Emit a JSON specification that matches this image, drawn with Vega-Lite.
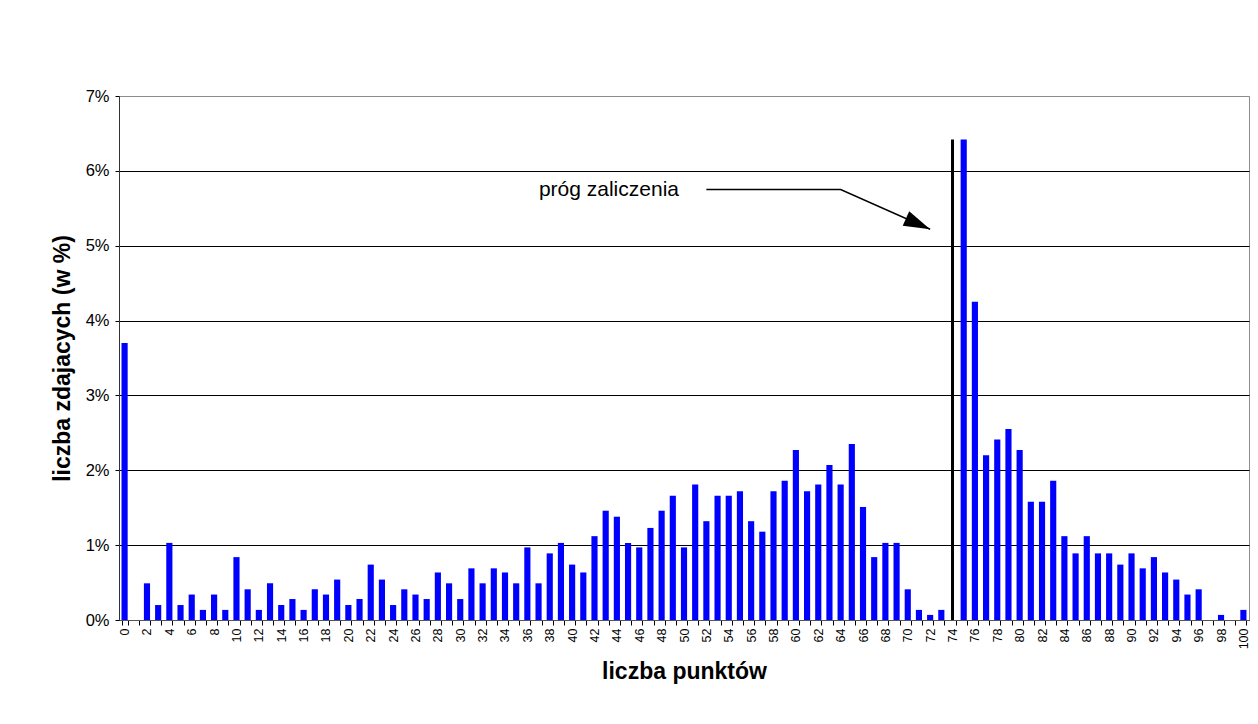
{
  "$schema": "https://vega.github.io/schema/vega-lite/v6.json",
  "width": 1130,
  "height": 524,
  "autosize": {"type": "none"},
  "padding": {"left": 119, "top": 96, "right": 9, "bottom": 104},
  "background": "white",
  "config": {
    "font": "Liberation Sans",
    "view": {"stroke": "#8c8c8c", "strokeWidth": 1},
    "axis": {"labelColor": "#000", "titleColor": "#000", "labelFont": "Liberation Sans", "titleFont": "Liberation Sans"}
  },
  "layer": [
    {
      "data": {"values": [
        {"k": 0, "pct": 3.70}, {"k": 1, "pct": 0}, {"k": 2, "pct": 0.49}, {"k": 3, "pct": 0.20}, {"k": 4, "pct": 1.03},
        {"k": 5, "pct": 0.20}, {"k": 6, "pct": 0.34}, {"k": 7, "pct": 0.135}, {"k": 8, "pct": 0.34}, {"k": 9, "pct": 0.135},
        {"k": 10, "pct": 0.84}, {"k": 11, "pct": 0.41}, {"k": 12, "pct": 0.135}, {"k": 13, "pct": 0.49}, {"k": 14, "pct": 0.20},
        {"k": 15, "pct": 0.28}, {"k": 16, "pct": 0.135}, {"k": 17, "pct": 0.41}, {"k": 18, "pct": 0.34}, {"k": 19, "pct": 0.54},
        {"k": 20, "pct": 0.20}, {"k": 21, "pct": 0.28}, {"k": 22, "pct": 0.74}, {"k": 23, "pct": 0.54}, {"k": 24, "pct": 0.20},
        {"k": 25, "pct": 0.41}, {"k": 26, "pct": 0.34}, {"k": 27, "pct": 0.28}, {"k": 28, "pct": 0.635}, {"k": 29, "pct": 0.49},
        {"k": 30, "pct": 0.28}, {"k": 31, "pct": 0.69}, {"k": 32, "pct": 0.49}, {"k": 33, "pct": 0.69}, {"k": 34, "pct": 0.635},
        {"k": 35, "pct": 0.49}, {"k": 36, "pct": 0.97}, {"k": 37, "pct": 0.49}, {"k": 38, "pct": 0.89}, {"k": 39, "pct": 1.03},
        {"k": 40, "pct": 0.74}, {"k": 41, "pct": 0.635}, {"k": 42, "pct": 1.12}, {"k": 43, "pct": 1.46}, {"k": 44, "pct": 1.38},
        {"k": 45, "pct": 1.03}, {"k": 46, "pct": 0.97}, {"k": 47, "pct": 1.23}, {"k": 48, "pct": 1.46}, {"k": 49, "pct": 1.66},
        {"k": 50, "pct": 0.97}, {"k": 51, "pct": 1.81}, {"k": 52, "pct": 1.32}, {"k": 53, "pct": 1.66}, {"k": 54, "pct": 1.66},
        {"k": 55, "pct": 1.72}, {"k": 56, "pct": 1.32}, {"k": 57, "pct": 1.18}, {"k": 58, "pct": 1.72}, {"k": 59, "pct": 1.86},
        {"k": 60, "pct": 2.27}, {"k": 61, "pct": 1.72}, {"k": 62, "pct": 1.81}, {"k": 63, "pct": 2.07}, {"k": 64, "pct": 1.81},
        {"k": 65, "pct": 2.35}, {"k": 66, "pct": 1.51}, {"k": 67, "pct": 0.84}, {"k": 68, "pct": 1.03}, {"k": 69, "pct": 1.03},
        {"k": 70, "pct": 0.41}, {"k": 71, "pct": 0.135}, {"k": 72, "pct": 0.068}, {"k": 73, "pct": 0.135}, {"k": 74, "pct": 0},
        {"k": 75, "pct": 6.42}, {"k": 76, "pct": 4.25}, {"k": 77, "pct": 2.20}, {"k": 78, "pct": 2.41}, {"k": 79, "pct": 2.55},
        {"k": 80, "pct": 2.27}, {"k": 81, "pct": 1.58}, {"k": 82, "pct": 1.58}, {"k": 83, "pct": 1.86}, {"k": 84, "pct": 1.12},
        {"k": 85, "pct": 0.89}, {"k": 86, "pct": 1.12}, {"k": 87, "pct": 0.89}, {"k": 88, "pct": 0.89}, {"k": 89, "pct": 0.74},
        {"k": 90, "pct": 0.89}, {"k": 91, "pct": 0.69}, {"k": 92, "pct": 0.84}, {"k": 93, "pct": 0.635}, {"k": 94, "pct": 0.54},
        {"k": 95, "pct": 0.34}, {"k": 96, "pct": 0.41}, {"k": 97, "pct": 0}, {"k": 98, "pct": 0.068}, {"k": 99, "pct": 0},
        {"k": 100, "pct": 0.135}
      ]},
      "mark": {"type": "bar", "color": "#0000FF"},
      "encoding": {
        "x": {
          "field": "k", "type": "ordinal", "title": "liczba punktów",
          "scale": {"type": "band", "paddingInner": 0.45, "paddingOuter": 0.225},
          "axis": {
            "labelAngle": -90, "labelFontSize": 12.5, "labelExpr": "datum.value % 2 == 0 ? datum.label : ''",
            "labelOverlap": false, "tickBand": "extent", "tickSize": 5, "tickColor": "#000",
            "domainColor": "#555", "labelPadding": 3, "titleFontSize": 23, "titleFontWeight": "bold",
            "titlePadding": 12, "grid": false
          }
        },
        "y": {
          "field": "pct", "type": "quantitative", "title": "liczba zdajacych (w %)",
          "scale": {"domain": [0, 7], "nice": false},
          "axis": {
            "values": [0, 1, 2, 3, 4, 5, 6, 7], "labelExpr": "datum.value + '%'", "labelFontSize": 16.5,
            "tickSize": 4, "labelPadding": 6, "grid": true,
            "gridColor": {"condition": {"test": "datum.value >= 7", "value": "#8c8c8c"}, "value": "#000"},
            "domainColor": "#333", "tickColor": "#000", "titleFontSize": 23, "titleFontWeight": "bold", "titlePadding": 11
          }
        }
      }
    },
    {
      "data": {"values": [{"k": 74, "y0": 0, "y1": 6.42}]},
      "mark": {"type": "rule", "color": "#000", "strokeWidth": 3},
      "encoding": {
        "x": {"field": "k", "type": "ordinal", "title": "liczba punktów"},
        "y": {"field": "y0", "type": "quantitative", "title": "liczba zdajacych (w %)"},
        "y2": {"field": "y1"}
      }
    },
    {
      "data": {"values": [{"k": 52, "v": 5.75, "o": 1}, {"k": 64, "v": 5.75, "o": 2}, {"k": 72, "v": 5.22, "o": 3}]},
      "mark": {"type": "line", "color": "#000", "strokeWidth": 1.4},
      "encoding": {
        "x": {"field": "k", "type": "ordinal", "title": "liczba punktów"},
        "y": {"field": "v", "type": "quantitative", "title": "liczba zdajacych (w %)"},
        "order": {"field": "o"}
      }
    },
    {
      "data": {"values": [{"k": 72, "v": 5.22}]},
      "mark": {"type": "point", "shape": "M0,0L-2,-0.6L-2,0.6Z", "size": 700, "angle": 24, "filled": true, "color": "#000", "opacity": 1, "strokeWidth": 0},
      "encoding": {
        "x": {"field": "k", "type": "ordinal", "title": "liczba punktów"},
        "y": {"field": "v", "type": "quantitative", "title": "liczba zdajacych (w %)"}
      }
    },
    {
      "data": {"values": [{"k": 50, "v": 5.665, "label": "próg zaliczenia"}]},
      "mark": {"type": "text", "align": "right", "baseline": "alphabetic", "dx": -5, "fontSize": 21, "font": "Liberation Sans", "color": "#000"},
      "encoding": {
        "x": {"field": "k", "type": "ordinal", "title": "liczba punktów"},
        "y": {"field": "v", "type": "quantitative", "title": "liczba zdajacych (w %)"},
        "text": {"field": "label"}
      }
    }
  ]
}
